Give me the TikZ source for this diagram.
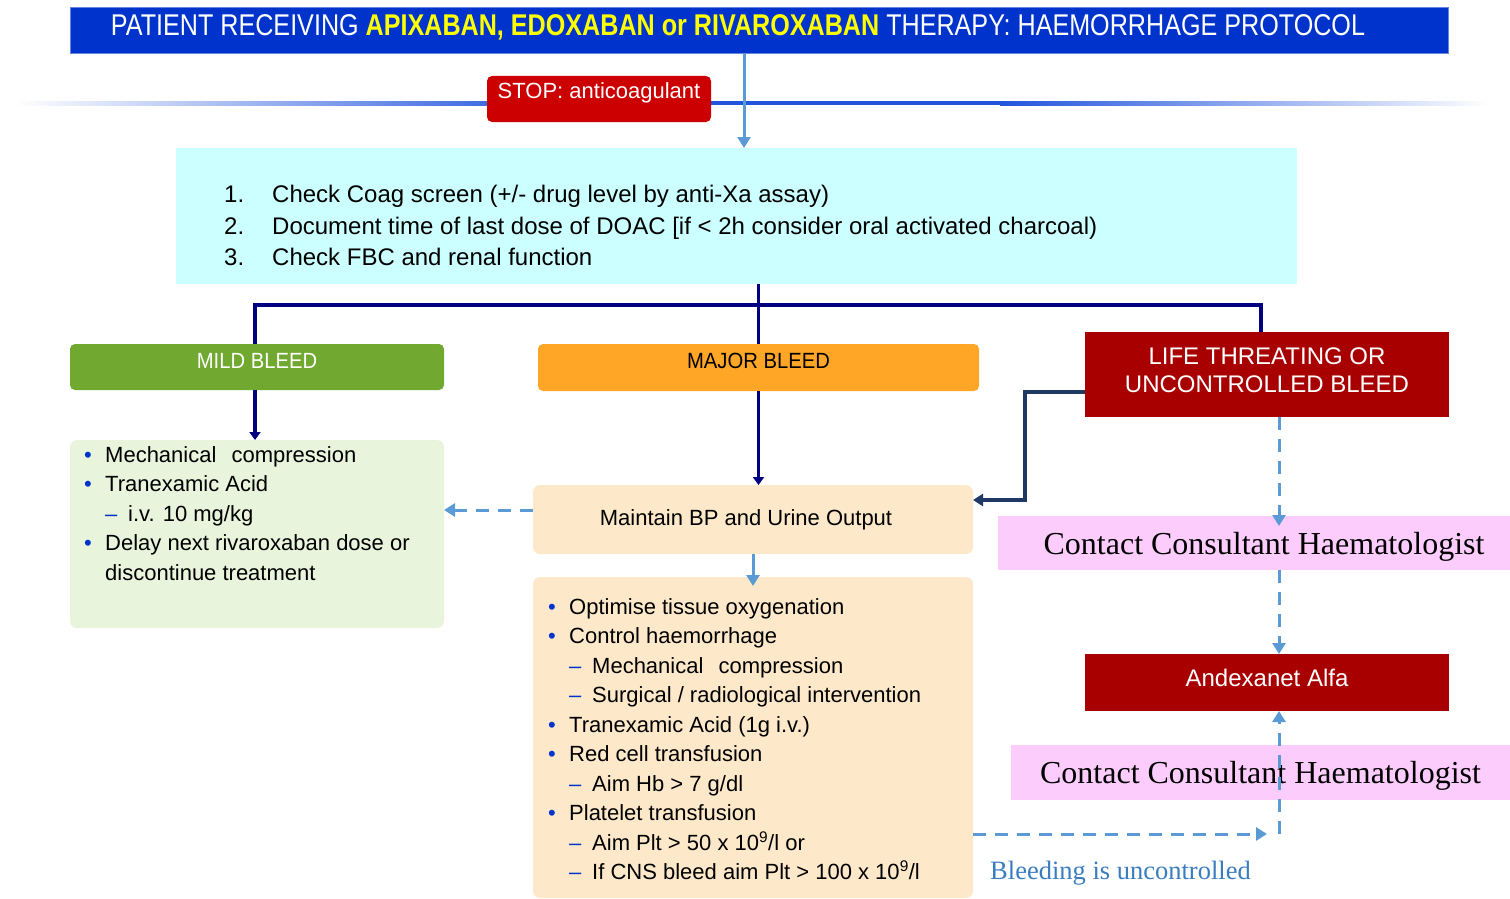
\documentclass[tikz,border=0pt]{standalone}
\usepackage{fontspec}
\setmainfont{Liberation Sans}
\newfontfamily\serifface{Liberation Serif}
\usetikzlibrary{arrows.meta}

\definecolor{titleblue}{RGB}{0,51,204}
\definecolor{titleyellow}{RGB}{255,255,0}
\definecolor{stopred}{RGB}{204,0,0}
\definecolor{checkcyan}{RGB}{204,255,255}
\definecolor{treenavy}{RGB}{0,0,128}
\definecolor{mildgreen}{RGB}{112,168,48}
\definecolor{mildpale}{RGB}{233,244,220}
\definecolor{majororange}{RGB}{255,166,38}
\definecolor{majorpale}{RGB}{253,233,201}
\definecolor{lifered}{RGB}{168,0,0}
\definecolor{contactpink}{RGB}{252,204,252}
\definecolor{flowblue}{RGB}{91,155,213}
\definecolor{linkslate}{RGB}{31,56,100}
\definecolor{bulletblue}{RGB}{0,51,204}
\definecolor{lineblue}{RGB}{34,85,221}
\definecolor{notetext}{RGB}{58,124,192}

\newcommand*{\bul}{\makebox[21pt][l]{\textcolor{bulletblue}{\textbullet}}}
\newcommand*{\subdash}{\hspace*{21pt}\makebox[23pt][l]{\textcolor{bulletblue}{--}}}
\newcommand*{\bodyfont}{\fontsize{22}{29.5}\selectfont}

\begin{document}
\begin{tikzpicture}
[
	x=1pt, y=-1pt,
	box/.style={inner sep=0pt, outer sep=0pt, align=center, font=\bodyfont},
	roundbox/.style={box, rounded corners=7pt},
	listtext/.style={inner sep=0pt, anchor=base west, align=left, font=\bodyfont},
	contact/.style={box, fill=contactpink, text height=24pt, text depth=2pt, font=\serifface\fontsize{32}{32}\selectfont},
	tree/.style={draw=treenavy, line width=3.5pt},
	treearrow/.style={tree, -{Triangle[width=11pt,length=8pt]}},
	link/.style={draw=linkslate, line width=3.5pt, -{Triangle[width=12pt,length=10pt]}},
	flow/.style={draw=flowblue, line width=3pt, -{Triangle[width=13pt,length=11pt]}},
	dashflow/.style={flow, dash pattern=on 13pt off 9pt}
]
	\useasboundingbox (0,0) rectangle (1510,899);

	% rule across the top
	\shade[left color=white, right color=lineblue] (15,101) rectangle (560,105);
	\fill[lineblue] (560,101) rectangle (1000,105);
	\shade[left color=lineblue, right color=white] (1000,101) rectangle (1490,105);

	% header
	\node[box, fill=titleblue, draw=titleblue!60!white, minimum width=1378pt, minimum height=46pt, text=white, text height=22pt, text depth=11.5pt] (title) at (759,30) {\resizebox{1254pt}{\height}{\fontsize{30}{30}\selectfont PATIENT RECEIVING \textcolor{titleyellow}{\bfseries APIXABAN, EDOXABAN or RIVAROXABAN} THERAPY: HAEMORRHAGE PROTOCOL}\hspace*{42pt}};
	\node[roundbox, rounded corners=5pt, fill=stopred, minimum width=224pt, minimum height=46pt, text=white, text height=16pt, text depth=18pt] (stop) at (599,99) {STOP: anticoagulant};

	% checks (the last line sits on the anchor)
	\node[box, fill=checkcyan, minimum width=1121pt, minimum height=136pt] (check) at (736.5,216) {};
	\node[listtext, font=\fontsize{24}{31.5}\selectfont] (checklist) at (224,265.5) {\makebox[48pt][l]{1.}Check Coag screen (+/- drug level by anti-Xa assay)\\%
\makebox[48pt][l]{2.}Document time of last dose of DOAC [if < 2h consider oral activated charcoal)\\%
\makebox[48pt][l]{3.}Check FBC and renal function};

	% severity
	\node[roundbox, rounded corners=5pt, fill=mildgreen, minimum width=374pt, minimum height=46pt, text=white, text height=16pt, text depth=14pt] (mild) at (257,367) {\scalebox{0.92}[1]{MILD BLEED}};
	\node[roundbox, rounded corners=5pt, fill=majororange, minimum width=441pt, minimum height=47pt, text height=16pt, text depth=14pt] (major) at (758.5,367.5) {\scalebox{0.92}[1]{MAJOR BLEED}};
	\node[box, fill=lifered, minimum width=364pt, minimum height=85pt, text=white, text depth=8pt, font=\fontsize{24}{28}\selectfont] (life) at (1267,374.5) {LIFE THREATING OR\\UNCONTROLLED BLEED};

	% mild treatment
	\node[roundbox, fill=mildpale, minimum width=374pt, minimum height=188pt] (mildbox) at (257,534) {};
	\node[listtext] (mildlist) at (84,580) {\bul Mechanical\hspace{9pt} compression\\%
\bul Tranexamic\ Acid\\%
\subdash i.v. 10 mg/kg\\%
\bul Delay next rivaroxaban dose or\\%
\hspace*{21pt}discontinue\ treatment};

	% major treatment
	\node[roundbox, fill=majorpale, minimum width=440pt, minimum height=69pt] (maintain) at (753,519.5) {Maintain BP and Urine Output\hspace*{14pt}};
	\node[roundbox, fill=majorpale, minimum width=440pt, minimum height=321pt] (majorbox) at (753,737.5) {};
	\node[listtext] (majorlist) at (548,879.5) {\bul Optimise tissue oxygenation\\%
\bul Control haemorrhage\\%
\subdash Mechanical\hspace{9pt} compression\\%
\subdash Surgical / radiological intervention\\%
\bul Tranexamic\ Acid (1g i.v.)\\%
\bul Red cell transfusion\\%
\subdash Aim Hb > 7 g/dl\\%
\bul Platelet transfusion\\%
\subdash Aim Plt > 50 x 10\textsuperscript{9}/l or\\%
\subdash If CNS bleed aim Plt > 100 x 10\textsuperscript{9}/l};

	% reversal
	\node[contact, minimum width=512pt, minimum height=54pt] (contact1) at (1254,543) {\hspace*{20pt}Contact Consultant Haematologist};
	\node[box, fill=lifered, minimum width=364pt, minimum height=57pt, text=white, text height=17pt, text depth=10pt, font=\fontsize{24}{28}\selectfont] (andexanet) at (1267,682.5) {Andexanet Alfa};
	\node[contact, minimum width=499pt, minimum height=55pt] (contact2) at (1260.5,772.5) {Contact Consultant Haematologist};
	\node[anchor=west, inner sep=0pt, text=notetext, font=\serifface\fontsize{26.5}{26.5}\selectfont] (note) at (990,873) {Bleeding is uncontrolled};

	% connectors
	\draw[flow] ([xshift=-15pt]title.south) -- ([xshift=-15pt]title.south |- check.north);
	\draw[tree] (major.north) -- (major.north |- check.south);
	\draw[tree] ([xshift=-2pt]mild.north) -- ++(0,-39) -| ([xshift=-6pt]life.north);
	\draw[treearrow] ([xshift=-2pt]mild.south) -- ([xshift=-2pt]mildbox.north);
	\draw[treearrow] (major.south) -- (major.south |- maintain.north);
	\draw[link] ([yshift=-17.5pt]life.west) -- ++(-60,0) |- ([yshift=19.5pt]maintain.east);
	\draw[dashflow] ([yshift=9.5pt]maintain.west) -- ([yshift=9.5pt]maintain.west -| mildbox.east);
	\draw[flow] (maintain.south) -- ([yshift=-9pt]majorbox.north);
	\draw[dashflow] ([xshift=12pt]life.south) -- ([xshift=12pt,yshift=-10pt]life.south |- contact1.north);
	\draw[dashflow] ([xshift=12pt]life.south |- contact1.south) -- ([xshift=12pt]life.south |- andexanet.north);
	\coordinate (turn) at (1279,834);
	\draw[dashflow] (majorbox.east |- turn) -- ([xshift=-12pt]turn);
	\draw[dashflow] (turn) -- (turn |- andexanet.south);

\end{tikzpicture}
\end{document}
